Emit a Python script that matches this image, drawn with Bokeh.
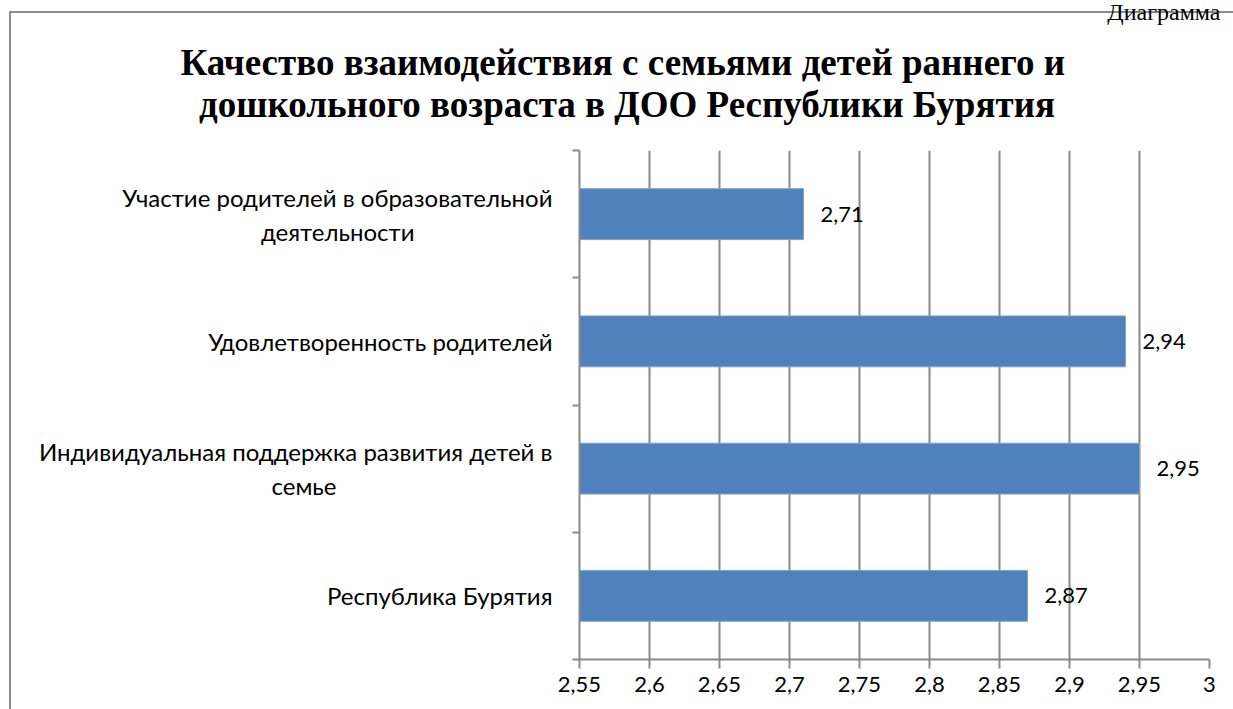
from bokeh.plotting import figure
from bokeh.models import (Range1d, FixedTicker, CustomJSTickFormatter, Title,
                          LabelSet, ColumnDataSource)
from bokeh.core.properties import value
from bokeh.embed import file_html
from bokeh.resources import INLINE

# ---- data ----
categories = ["Республика Бурятия",
              "Индивидуальная поддержка развития детей в семье",
              "Удовлетворенность родителей",
              "Участие родителей в образовательной деятельности"]
EM, EN = "\u2003", "\u2002"
label_text = ["Республика Бурятия",
              "Индивидуальная поддержка развития детей в\nсемье" + EM * 12,
              "Удовлетворенность родителей",
              "Участие родителей в образовательной\nдеятельности" + EM * 7 + EN]
values = [2.87, 2.95, 2.94, 2.71]
x_ticks = [2.55, 2.6, 2.65, 2.7, 2.75, 2.8, 2.85, 2.9, 2.95, 3.0]
title_text = ("Качество взаимодействия с семьями детей раннего и\n"
              "\u00a0\u00a0дошкольного возраста в ДОО Республики Бурятия")
corner_text = "Диаграмма"

XMIN, XMAX = 2.55, 3.0
W, H = 1233, 709
L, R, T, B = 579, 24, 150, 50

GREY = "#898989"
FONT = "Lato"
FS = "22px"

p = figure(width=W, height=H, output_backend="svg", toolbar_location=None,
           x_range=Range1d(XMIN, XMAX), y_range=Range1d(0, len(categories)),
           min_border_left=L, min_border_right=R, min_border_top=T,
           min_border_bottom=B)
p.outline_line_color = None
p.background_fill_color = "white"
p.border_fill_color = None
p.styles = {"background": ("linear-gradient(#8c8c8c,#8c8c8c) 9px 11px / 2px 100% no-repeat, "
                           "linear-gradient(#8c8c8c,#8c8c8c) 9px 11px / 100% 2px no-repeat, "
                           "white")}

ypos = [i + 0.5 for i in range(len(categories))]
src = ColumnDataSource(dict(y=ypos, v=values, cat=categories,
                            txt=[f"{v:.2f}".replace(".", ",") for v in values]))
p.hbar(y="y", left=XMIN, right="v", height=0.4, source=src,
       fill_color="#4f81bd", line_color="#7ea3d1", line_width=1)

# x axis
p.xaxis.ticker = FixedTicker(ticks=x_ticks)
p.xaxis.formatter = CustomJSTickFormatter(
    code="return String(Number(tick.toFixed(2))).replace('.', ',');")
p.xaxis.axis_line_color = GREY
p.xaxis.axis_line_width = 2
p.xaxis.major_tick_line_color = GREY
p.xaxis.major_tick_line_width = 2
p.xaxis.major_tick_out = 9
p.xaxis.major_tick_in = 0
p.xaxis.minor_tick_line_color = None
p.xaxis.major_label_text_font = FONT
p.xaxis.major_label_text_font_size = FS
p.xaxis.major_label_text_color = "black"
p.xaxis.major_label_standoff = 8

# y axis: labels at category centres, ticks at category boundaries
p.yaxis.ticker = FixedTicker(ticks=ypos, minor_ticks=list(range(len(categories) + 1)))
p.yaxis.major_label_overrides = {y: t for y, t in zip(ypos, label_text)}
p.yaxis.axis_line_color = GREY
p.yaxis.axis_line_width = 2
p.yaxis.major_tick_line_color = None
p.yaxis.major_tick_out = 0
p.yaxis.major_tick_in = 0
p.yaxis.minor_tick_line_color = GREY
p.yaxis.minor_tick_line_width = 2
p.yaxis.minor_tick_out = 7
p.yaxis.minor_tick_in = 0
p.yaxis.major_label_standoff = 20
p.yaxis.major_label_text_font = FONT
p.yaxis.major_label_text_font_size = "24px"
p.yaxis.major_label_text_color = "black"
p.yaxis.major_label_text_line_height = 1.18

p.xgrid.grid_line_color = GREY
p.xgrid.grid_line_width = 2
p.ygrid.grid_line_color = None

# value labels
p.add_layout(LabelSet(x="v", y="y", text="txt", source=src, x_offset=17,
                      text_baseline="middle", text_align="left",
                      text_font=value(FONT), text_font_size=value(FS),
                      text_color="black"))

# titles (first added = nearest the plot)
p.add_layout(Title(text=title_text, align="left", text_font="Liberation Serif",
                   text_font_style="bold", text_font_size="37px",
                   text_line_height=1.02, text_color="black", standoff=51,
                   offset=-399), "above")
p.add_layout(Title(text=corner_text, align="right", text_font="Liberation Serif",
                   text_font_style="normal", text_font_size="24px",
                   text_color="black", standoff=-21, offset=-11), "above")

open("out.html", "w").write(file_html(p, INLINE))
